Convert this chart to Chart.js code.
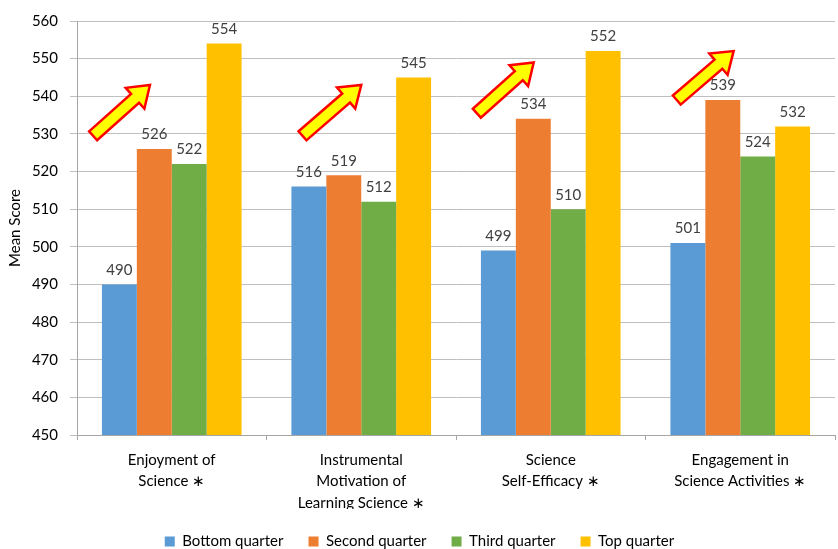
<!DOCTYPE html>
<html>
<head>
<meta charset="utf-8">
<script src="https://cdn.jsdelivr.net/npm/chart.js@4"></script>
<style>
  body { margin: 0; background: #fff; }
  #wrap { width: 838px; height: 549px; }
</style>
</head>
<body>
<div id="wrap"><canvas id="myChart" width="838" height="549"></canvas></div>
<script>
const categories = [
    ['Enjoyment of', 'Science \u2217'],
    ['Instrumental', 'Motivation of', 'Learning Science \u2217'],
    ['Science', 'Self-Efficacy \u2217'],
    ['Engagement in', 'Science Activities \u2217']
];
const bottomQuarter = [490, 516, 499, 501];
const secondQuarter = [526, 519, 534, 539];
const thirdQuarter = [522, 512, 510, 524];
const topQuarter = [554, 545, 552, 532];
const yTicks = [450, 460, 470, 480, 490, 500, 510, 520, 530, 540, 550, 560];

// trend arrows: start / end in value units, x as offset from category centre (fraction of category)
const arrowFromY = [529.5, 529.5, 535.5, 539];
const arrowToY = [543, 543, 549, 552];
const arrowFromX = [-0.415, -0.31, -0.39, -0.335];
const arrowToX = [-0.115, 0, -0.09, -0.035];

const fontFamily = 'Lato, "Liberation Sans", sans-serif';

const valueLabels = {
    id: 'valueLabels',
    afterDatasetsDraw(chart) {
        const ctx = chart.ctx;
        ctx.save();
        ctx.font = '15px ' + fontFamily;
        ctx.fillStyle = '#404040';
        ctx.textAlign = 'center';
        ctx.textBaseline = 'bottom';
        chart.data.datasets.forEach(function(ds, i) {
            chart.getDatasetMeta(i).data.forEach(function(bar, j) {
                ctx.fillText(ds.data[j], bar.x, bar.y - 7);
            });
        });
        ctx.restore();
    }
};

const arrows = {
    id: 'arrows',
    afterDatasetsDraw(chart) {
        const ctx = chart.ctx;
        const xs = chart.scales.x;
        const ys = chart.scales.y;
        const catW = (xs.right - xs.left) / categories.length;
        ctx.save();
        for (let i = 0; i < categories.length; i++) {
            const cx = xs.getPixelForValue(i);
            const x0 = cx + arrowFromX[i] * catW;
            const y0 = ys.getPixelForValue(arrowFromY[i]);
            const x1 = cx + arrowToX[i] * catW;
            const y1 = ys.getPixelForValue(arrowToY[i]);
            const len = Math.hypot(x1 - x0, y1 - y0);
            const ang = Math.atan2(y1 - y0, x1 - x0);
            const sw = 6, hw = 14, hl = 20;
            ctx.save();
            ctx.translate(x0, y0);
            ctx.rotate(ang);
            ctx.beginPath();
            ctx.moveTo(0, -sw);
            ctx.lineTo(len - hl, -sw);
            ctx.lineTo(len - hl, -hw);
            ctx.lineTo(len, 0);
            ctx.lineTo(len - hl, hw);
            ctx.lineTo(len - hl, sw);
            ctx.lineTo(0, sw);
            ctx.closePath();
            ctx.fillStyle = '#ffff00';
            ctx.fill();
            ctx.lineWidth = 2.5;
            ctx.strokeStyle = '#ff0000';
            ctx.lineJoin = 'miter';
            ctx.stroke();
            ctx.restore();
        }
        ctx.restore();
    }
};

Chart.defaults.font.family = fontFamily;
Chart.defaults.color = '#000';

new Chart(document.getElementById('myChart'), {
    type: 'bar',
    data: {
        labels: categories,
        datasets: [
            { label: 'Bottom quarter', data: bottomQuarter, backgroundColor: '#5b9bd5' },
            { label: 'Second quarter', data: secondQuarter, backgroundColor: '#ed7d31' },
            { label: 'Third quarter', data: thirdQuarter, backgroundColor: '#70ad47' },
            { label: 'Top quarter', data: topQuarter, backgroundColor: '#ffc000' }
        ]
    },
    options: {
        responsive: false,
        animation: false,
        devicePixelRatio: 1,
        layout: { padding: { top: 20, right: 3, left: 4, bottom: -10 } },
        datasets: { bar: { barPercentage: 1, categoryPercentage: 0.737 } },
        plugins: {
            legend: {
                position: 'bottom',
                labels: { boxWidth: 10, boxHeight: 10, padding: 25, font: { size: 15 }, color: '#000' }
            },
            tooltip: { enabled: false }
        },
        scales: {
            x: {
                grid: { offset: true, drawOnChartArea: false, drawTicks: true, tickLength: 5, color: '#a6a6a6' },
                border: { color: '#a6a6a6', width: 1 },
                ticks: { font: { size: 15, lineHeight: 1.45 }, color: '#000', padding: 9, maxRotation: 0, autoSkip: false },
                afterFit(scale) { scale.height = 74; }
            },
            y: {
                min: 450,
                max: 560,
                afterBuildTicks(scale) { scale.ticks = yTicks.map(function(v) { return { value: v }; }); },
                grid: { color: '#bfbfbf', tickLength: 7 },
                border: { color: '#a6a6a6' },
                ticks: { font: { size: 15 }, color: '#000', padding: 12 },
                title: { display: true, text: 'Mean Score', font: { size: 15 }, color: '#000', padding: 2 },
                afterFit(scale) { scale.width = 73; }
            }
        }
    },
    plugins: [valueLabels, arrows]
});
</script>
</body>
</html>
